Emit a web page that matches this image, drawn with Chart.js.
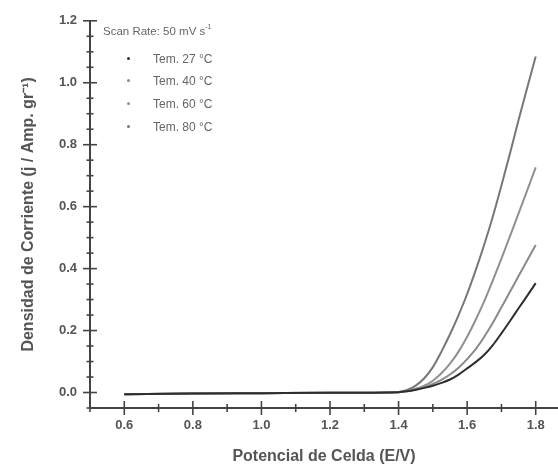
<!DOCTYPE html>
<html><head><meta charset="utf-8">
<script src="https://cdn.jsdelivr.net/npm/chart.js@4/dist/chart.umd.min.js"></script>
<style>
html,body{margin:0;padding:0;background:#fff;}
#wrap{position:relative;width:558px;height:465px;overflow:hidden;}
#c{position:absolute;left:0;top:0;}
.lg{position:absolute;font-family:"Liberation Sans",Arial,sans-serif;color:#666;font-size:12px;line-height:12px;white-space:nowrap;}
.lgh{font-size:11.5px;}
.dot{position:absolute;width:3px;height:3px;border-radius:50%;}
sup{font-size:7px;line-height:0;vertical-align:6px;}
</style></head>
<body><div id="wrap"><canvas id="c" width="558" height="465"></canvas></div>
<script>
// ---- data ----
const potential = [0.6, 0.8, 1.0, 1.2, 1.4, 1.425, 1.45, 1.475, 1.5, 1.525, 1.55, 1.575, 1.6, 1.625, 1.65, 1.675, 1.7, 1.725, 1.75, 1.775, 1.8];
const tem27 = [-0.006, -0.003, -0.002, -0.001, 0.001, 0.004, 0.009, 0.015, 0.022, 0.031, 0.042, 0.058, 0.078, 0.098, 0.122, 0.153, 0.191, 0.231, 0.272, 0.312, 0.353];
const tem40 = [-0.006, -0.003, -0.002, -0.001, 0.001, 0.004, 0.009, 0.017, 0.028, 0.041, 0.058, 0.080, 0.108, 0.140, 0.180, 0.225, 0.275, 0.325, 0.376, 0.426, 0.476];
const tem60 = [-0.006, -0.003, -0.002, -0.001, 0.001, 0.005, 0.012, 0.022, 0.038, 0.062, 0.093, 0.132, 0.180, 0.235, 0.295, 0.362, 0.432, 0.505, 0.578, 0.652, 0.727];
const tem80 = [-0.006, -0.003, -0.002, -0.001, 0.002, 0.008, 0.022, 0.046, 0.082, 0.132, 0.188, 0.250, 0.318, 0.395, 0.478, 0.568, 0.668, 0.772, 0.880, 0.983, 1.085];
const seriesLabels = ['Tem. 27 °C', 'Tem. 40 °C', 'Tem. 60 °C', 'Tem. 80 °C'];
const seriesValues = [tem27, tem40, tem60, tem80];
const seriesColors = ['#2e2e2e', '#8a8a8a', '#909090', '#777777'];
const xTickValues = [0.6, 0.8, 1.0, 1.2, 1.4, 1.6, 1.8];
const yTickValues = [0.0, 0.2, 0.4, 0.6, 0.8, 1.0, 1.2];
const legendTitle = 'Scan Rate: 50 mV s';

const FONT = '"Liberation Sans", Arial, sans-serif';

const datasets = seriesValues.map((vals, i) => ({
  label: seriesLabels[i],
  data: potential.map((x, j) => ({x: x, y: vals[j]})),
  borderColor: seriesColors[i],
  backgroundColor: seriesColors[i],
  borderWidth: 2,
  pointRadius: 0,
  cubicInterpolationMode: 'monotone',
  fill: false
}));

const crossTicks = {
  id: 'crossTicks',
  afterDraw(chart) {
    const ctx = chart.ctx;
    const xs = chart.scales.x, ys = chart.scales.y;
    const area = chart.chartArea;
    ctx.save();
    ctx.strokeStyle = '#444';
    ctx.lineWidth = 1.6;
    for (let k = 5; k <= 18; k++) {
      const px = xs.getPixelForValue(k / 10);
      const len = (k % 2 === 0) ? 7 : 4;
      ctx.beginPath();
      ctx.moveTo(px, area.bottom - len);
      ctx.lineTo(px, area.bottom + len);
      ctx.stroke();
    }
    for (let k = -1; k <= 24; k++) {
      const py = ys.getPixelForValue(k * 0.05);
      const len = (k >= 0 && k % 4 === 0) ? 7 : 3.5;
      ctx.beginPath();
      ctx.moveTo(area.left - len, py);
      ctx.lineTo(area.left + len, py);
      ctx.stroke();
    }
    ctx.restore();
  }
};

const chart = new Chart(document.getElementById('c'), {
  type: 'line',
  data: {datasets: datasets},
  options: {
    responsive: false,
    animation: false,
    devicePixelRatio: 1,
    layout: {padding: {top: 19, right: 0, left: 0, bottom: 0}},
    plugins: {legend: {display: false}, tooltip: {enabled: false}},
    scales: {
      x: {
        type: 'linear',
        min: 0.5, max: 1.865,
        afterBuildTicks: s => { s.ticks = xTickValues.map(v => ({value: v})); },
        afterFit: s => { s.height = 57; },
        grid: {display: false, drawTicks: false},
        border: {display: true, color: '#444', width: 2},
        ticks: {padding: 10, color: '#555', font: {family: FONT, size: 13, weight: 'bold'},
                callback: v => v.toFixed(1), maxRotation: 0, autoSkip: false},
        title: {display: true, text: 'Potencial de Celda (E/V)', color: '#555',
                font: {family: FONT, size: 16, weight: 'bold', lineHeight: 1}, padding: {top: 0, bottom: 0}}
      },
      y: {
        type: 'linear',
        min: -0.05, max: 1.2,
        afterBuildTicks: s => { s.ticks = yTickValues.map(v => ({value: v})); },
        afterFit: s => { s.width = 90; },
        grid: {display: false, drawTicks: false},
        border: {display: true, color: '#444', width: 2},
        ticks: {padding: 13, color: '#555', font: {family: FONT, size: 13, weight: 'bold'},
                callback: v => v.toFixed(1), autoSkip: false},
        title: {display: true, text: 'Densidad de Corriente (j / Amp. gr⁻¹)', color: '#555',
                font: {family: FONT, size: 16, weight: 'bold', lineHeight: 1.2}, padding: {top: 19, bottom: 0}}
      }
    }
  },
  plugins: [crossTicks]
});

// ---- legend overlay (real text) ----
const wrap = document.getElementById('wrap');
const head = document.createElement('div');
head.className = 'lg lgh';
head.style.left = '103px';
head.style.top = '25px';
head.innerHTML = legendTitle + '<sup>-1</sup>';
wrap.appendChild(head);
const rowY = [59, 81, 104, 127];
seriesLabels.forEach((lab, i) => {
  const d = document.createElement('div');
  d.className = 'dot';
  d.style.left = '127px';
  d.style.top = (rowY[i] - 2) + 'px';
  d.style.background = seriesColors[i];
  wrap.appendChild(d);
  const t = document.createElement('div');
  t.className = 'lg';
  t.style.left = '153px';
  t.style.top = (rowY[i] - 6) + 'px';
  t.textContent = lab;
  wrap.appendChild(t);
});
</script>
</body></html>
